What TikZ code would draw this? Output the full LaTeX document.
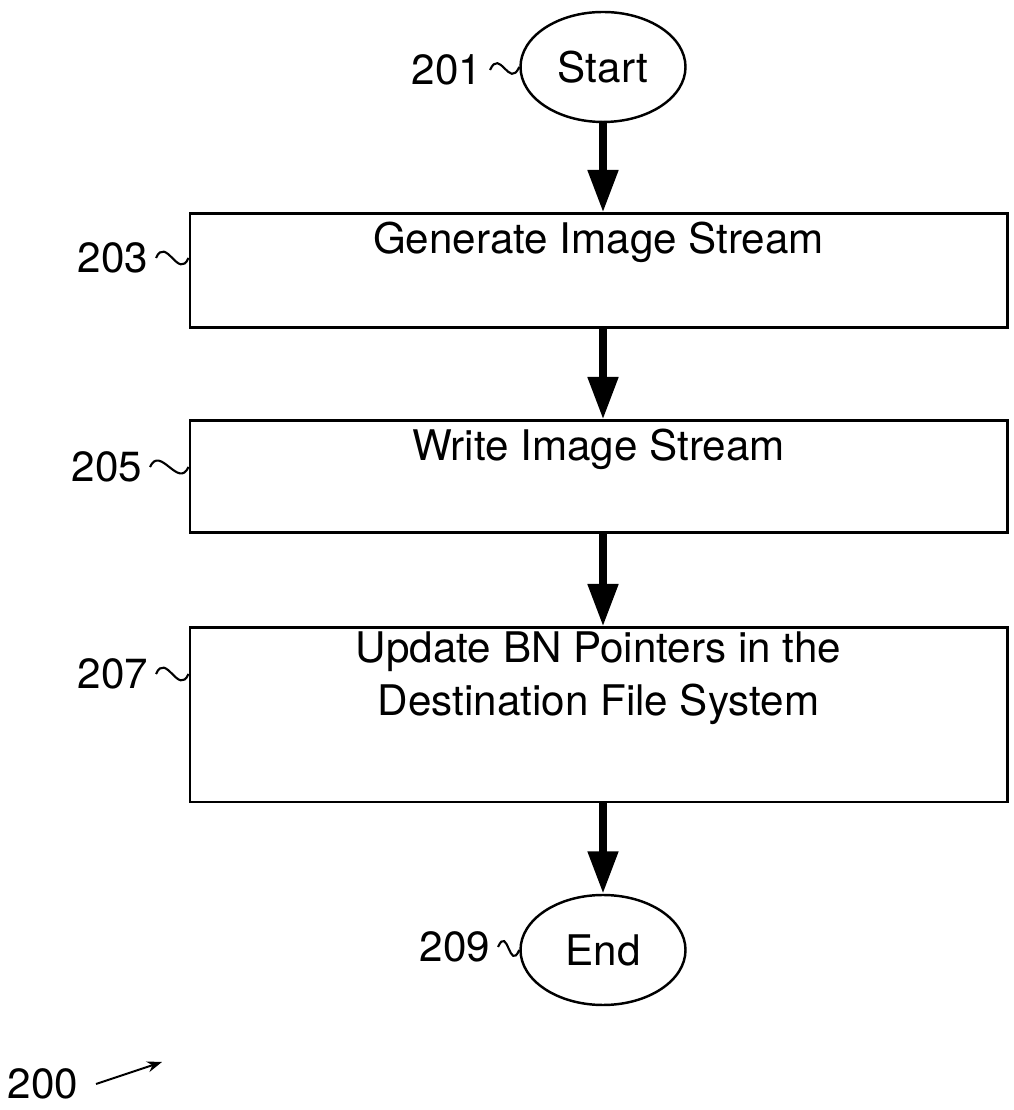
\documentclass[tikz,border=0pt]{standalone}
\usepackage{fontspec}
\setmainfont{TeX Gyre Heros}
\usetikzlibrary{shapes.geometric,arrows.meta,positioning}

\begin{document}
\begin{tikzpicture}[
  terminal/.style={ellipse, draw, line width=1.4pt, minimum width=3.3cm, minimum height=2.2cm, inner sep=0pt, font=\fontsize{24}{30}\selectfont},
  stepbox/.style={rectangle, draw, line width=1.7pt, minimum width=16.34cm},
  steptext/.style={inner sep=0pt, align=center, font=\fontsize{24}{30}\selectfont},
  refnum/.style={inner sep=0.15cm, font=\fontsize{24}{30}\selectfont},
  flow/.style={line width=4.5pt, -{Triangle[length=0.85cm,width=0.58cm]}},
  tilde/.style={line width=1.2pt}
]
\useasboundingbox (0,0) rectangle (20.26,22.2);
% start, steps and end
\node[terminal] (start) at (12.06,20.86) {Start};
\node[stepbox, minimum height=2.28cm] (b203) at (11.97,16.78) {};
\node[stepbox, minimum height=2.24cm] (b205) at (11.97,12.66) {};
\node[stepbox, minimum height=3.48cm] (b207) at (11.97,7.9) {};
\node[terminal] (end) at (12.06,3.2) {End};
\node[steptext, below=0.18cm of b203.north] (t203) {Generate Image Stream};
\node[steptext, below=0.18cm of b205.north] (t205) {Write Image Stream};
\node[steptext, below=0.1cm of b207.north] (t207) {Update BN Pointers in the\\Destination File System};
% flow arrows
\draw[flow] (start.south) -- (start.south |- b203.north);
\draw[flow] (start.south |- b203.south) -- (start.south |- b205.north);
\draw[flow] (start.south |- b205.south) -- (start.south |- b207.north);
\draw[flow] (start.south |- b207.south) -- (end.north);
% reference numerals
\node[refnum] (l201) at (8.94,20.8) {201};
\node[refnum] (l203) at (2.26,17.04) {203};
\node[refnum] (l205) at (2.14,12.86) {205};
\node[refnum] (l207) at (2.26,8.72) {207};
\node[refnum] (l209) at (9.1,3.26) {209};
\node[refnum] (l200) at (0.86,0.52) {200};
\foreach \n in {203,205,207}
    \draw[tilde] (l\n.east) .. controls +(0.2,0.45) and +(-0.2,-0.45) .. (b\n.west |- l\n.east);
\draw[tilde] (l201.east) .. controls +(0.2,0.45) and +(-0.2,-0.45) .. (start.west);
\draw[tilde] (l209.east) .. controls +(0.2,0.45) and +(-0.2,-0.45) .. (end.west);
\coordinate (fig) at (3.24,0.96);
\draw[line width=1.1pt, -{Stealth[length=0.3cm,width=0.22cm]}] ([xshift=0.2cm]l200.east) -- (fig);
\end{tikzpicture}
\end{document}
